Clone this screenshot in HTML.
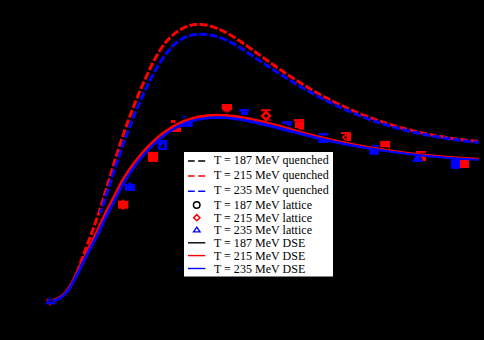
<!DOCTYPE html>
<html><head><meta charset="utf-8"><title>plot</title>
<style>
html,body{margin:0;padding:0;background:#000;}
body{width:484px;height:340px;overflow:hidden;}
svg{display:block}
.t{font-family:"Liberation Serif",serif;font-size:12px;fill:#000;letter-spacing:0.025px;}
</style></head><body>
<svg width="484" height="340" viewBox="0 0 484 340">
<defs><clipPath id="cp"><rect x="0" y="0" width="484" height="213"/></clipPath></defs>
<rect width="484" height="340" fill="#000"/>
<g fill="none" stroke-linejoin="round">
<rect x="46.1" y="302" width="9.50" height="2.40" fill="#0000ff"/>
<rect x="49.3" y="297.4" width="1.40" height="5.40" fill="#0000ff"/>
<path d="M46.1,302.6 L49.3,297.8 L50.3,298.6 L47.6,302.6 Z" fill="#0000ff"/>
<rect x="124.9" y="184" width="10.20" height="6.90" fill="#0000ff"/>
<path d="M127.3,184.2 L132.5,184.2 L129.9,181.9 Z" fill="#0000ff"/>
<rect x="157.8" y="140" width="9.30" height="9.90" fill="#0000ff"/>
<path d="M160.2,148.0 L163.9,148.0 L163.9,144.6 L162.6,143.6 Z" fill="#000"/>
<rect x="182.8" y="115.9" width="3.30" height="1.60" fill="#0000ff"/>
<rect x="181" y="121.2" width="11.80" height="5.60" fill="#0000ff"/>
<rect x="239.3" y="109" width="9.70" height="2.60" fill="#0000ff"/>
<rect x="241" y="111.6" width="7.00" height="3.40" fill="#0000ff"/>
<rect x="282" y="121.2" width="10.10" height="2.40" fill="#0000ff"/>
<path d="M285,123.6 L292,123.6 L291.3,125.7 L288,125.7 Z" fill="#0000ff"/>
<rect x="283" y="127" width="8.00" height="4.00" fill="#0000ff"/>
<rect x="318.6" y="133" width="9.30" height="2.50" fill="#0000ff"/>
<rect x="318.3" y="139.8" width="9.60" height="3.10" fill="#0000ff"/>
<rect x="372.3" y="144.9" width="6.90" height="1.80" fill="#0000ff"/>
<rect x="369.3" y="149.8" width="9.50" height="5.00" fill="#0000ff"/>
<path d="M412,161.9 L423,161.9 L419,154.9 L416,154.9 Z" fill="#0000ff"/>
<rect x="451" y="158.7" width="9.90" height="10.10" fill="#0000ff"/>
<path d="M48.8,304.3 L51.2,304.3 L50,305.9 Z" fill="#ff0000"/>
<path d="M46.0,300.6 L47.6,298.2 L48.4,298.8 L46.8,301.2 Z" fill="#ff0000"/>
<rect x="118" y="200.7" width="10.30" height="8.00" fill="#ff0000"/>
<rect x="122.2" y="199.7" width="2.00" height="10.00" fill="#ff0000"/>
<rect x="148" y="151.9" width="10.00" height="10.00" fill="#ff0000"/>
<rect x="171" y="120" width="4.40" height="2.90" fill="#ff0000"/>
<rect x="171" y="127.5" width="10.00" height="4.50" fill="#ff0000"/>
<rect x="221.8" y="104" width="10.20" height="6.00" fill="#ff0000"/>
<rect x="223.5" y="110" width="7.00" height="1.40" fill="#ff0000"/>
<rect x="225.5" y="111.4" width="3.50" height="1.00" fill="#ff0000"/>
<rect x="260.8" y="109.3" width="9.90" height="1.90" fill="#ff0000"/>
<path d="M266,112.0 L270.0,115.8 L266,119.6 L262.0,115.8 Z" fill="none" stroke="#ff0000" stroke-width="2.5"/>
<rect x="264.5" y="119.3" width="6.20" height="1.30" fill="#ff0000"/>
<rect x="294" y="119.1" width="10.10" height="2.10" fill="#ff0000"/>
<rect x="295" y="121.2" width="9.00" height="6.80" fill="#ff0000"/>
<path d="M297,128 L304,128 L304,129.8 L300,129.8 Z" fill="#ff0000"/>
<rect x="341" y="132.1" width="10.00" height="1.90" fill="#ff0000"/>
<rect x="346.5" y="134" width="4.50" height="7.00" fill="#ff0000"/>
<path d="M346.5,134.3 L342.6,137.3 L346.5,140.4" fill="none" stroke="#ff0000" stroke-width="1.7"/>
<rect x="380.2" y="140.9" width="9.90" height="6.40" fill="#ff0000"/>
<rect x="388.5" y="147.3" width="1.60" height="1.20" fill="#ff0000"/>
<rect x="415.9" y="151" width="10.20" height="1.80" fill="#ff0000"/>
<path d="M420.9,156.3 L424.5,156.3 L426.1,158 L426.1,160.9 L423,160.9 Z" fill="#ff0000"/>
<rect x="460.1" y="159.9" width="8.90" height="8.10" fill="#ff0000"/>
<path d="M52.7,300.4 L54.0,300.1 L55.2,299.8 L56.4,299.4 L57.6,298.9 L58.7,298.4 L59.8,297.7 L60.8,297.1 L61.9,296.3 L62.8,295.6 L63.8,294.7 L64.7,293.8 L65.6,292.9 L66.4,292.0 L67.3,291.0 L68.0,290.0 L68.8,288.9 L69.5,287.9 L70.2,286.8 L70.9,285.7 L71.5,284.6 L72.1,283.5 L72.7,282.4 L73.3,281.2 L73.8,280.1 L74.3,278.9 L74.9,277.8 L75.3,276.6 L75.8,275.4 L76.3,274.3 L76.7,273.1 L77.2,271.9 L77.6,270.7 L78.1,269.5 L78.5,268.4 L78.9,267.2 L79.4,266.0 L79.8,264.8 L80.2,263.6 L80.7,262.4 L81.1,261.2 L81.6,260.0 L82.0,258.9 L82.5,257.7 L82.9,256.5 L83.3,255.3 L83.8,254.1 L84.2,252.9 L84.7,251.7 L85.1,250.5 L85.6,249.4 L86.0,248.2 L86.5,247.0 L86.9,245.8 L87.4,244.6 L87.8,243.4 L88.3,242.2 L88.7,241.0 L89.1,239.9 L89.6,238.7 L90.0,237.5 L90.5,236.3 L90.9,235.1 L91.4,233.9 L91.8,232.7 L92.2,231.5 L92.7,230.3 L93.1,229.1 L93.5,227.9 L94.0,226.7 L94.4,225.6 L94.8,224.4 L95.2,223.2 L95.7,222.0 L96.1,220.8 L96.5,219.6 L96.9,218.4 L97.3,217.2 L97.8,216.0 L98.2,214.8 L98.6,213.6 L99.0,212.4 L99.4,211.2 L99.8,210.0 L100.2,208.8 L100.5,207.6 L100.9,206.3 L101.3,205.1 L101.7,203.9 L102.1,202.7 L102.5,201.5 L102.8,200.3 L103.2,199.1 L103.6,197.9 L104.0,196.7 L104.3,195.5 L104.7,194.2 L105.1,193.0 L105.4,191.8 L105.8,190.6 L106.2,189.4 L106.5,188.2 L106.9,187.0 L107.3,185.8 L107.6,184.5 L108.0,183.3 L108.3,182.1 L108.7,180.9 L109.1,179.7 L109.4,178.5 L109.8,177.2 L110.1,176.0 L110.5,174.8 L110.9,173.6 L111.2,172.4 L111.6,171.2 L111.9,170.0 L112.3,168.7 L112.7,167.5 L113.0,166.3 L113.4,165.1 L113.8,163.9 L114.2,162.7 L114.5,161.5 L114.9,160.2 L115.3,159.0 L115.7,157.8 L116.0,156.6 L116.4,155.4 L116.8,154.2 L117.2,153.0 L117.6,151.8 L118.0,150.6 L118.4,149.4 L118.7,148.1 L119.1,146.9 L119.5,145.7 L119.9,144.5 L120.3,143.3 L120.7,142.1 L121.1,140.9 L121.5,139.7 L121.9,138.5 L122.4,137.3 L122.8,136.1 L123.2,134.9 L123.6,133.7 L124.0,132.5 L124.4,131.3 L124.8,130.1 L125.3,128.9 L125.7,127.7 L126.1,126.5 L126.5,125.3 L127.0,124.1 L127.4,122.9 L127.8,121.7 L128.3,120.5 L128.7,119.3 L129.2,118.1 L129.6,116.9 L130.0,115.8 L130.5,114.6 L130.9,113.4 L131.4,112.2 L131.8,111.0 L132.3,109.8 L132.8,108.6 L133.2,107.5 L133.7,106.3 L134.1,105.1 L134.6,103.9 L135.1,102.7 L135.6,101.6 L136.0,100.4 L136.5,99.2 L137.0,98.0 L137.5,96.9 L138.0,95.7 L138.4,94.5 L138.9,93.4 L139.4,92.2 L139.9,91.0 L140.4,89.9 L140.9,88.7 L141.4,87.5 L141.9,86.4 L142.4,85.2 L142.9,84.0 L143.5,82.9 L144.0,81.7 L144.5,80.6 L145.0,79.4 L145.5,78.3 L146.1,77.1 L146.6,76.0 L147.1,74.8 L147.7,73.7 L148.2,72.5 L148.7,71.4 L149.3,70.2 L149.8,69.1 L150.4,68.0 L150.9,66.8 L151.5,65.7 L152.0,64.6 L152.6,63.4 L153.2,62.3 L153.8,61.2 L154.3,60.0 L154.9,58.9 L155.5,57.8 L156.1,56.7 L156.7,55.6 L157.4,54.5 L158.0,53.4 L158.6,52.3 L159.3,51.3 L160.0,50.2 L160.7,49.1 L161.4,48.1 L162.1,47.0 L162.8,46.0 L163.6,45.0 L164.4,44.0 L165.1,43.0 L166.0,42.0 L166.8,41.0 L167.7,40.1 L168.5,39.1 L169.4,38.2 L170.4,37.3 L171.3,36.4 L172.3,35.5 L173.3,34.7 L174.3,33.9 L175.3,33.0 L176.3,32.3 L177.4,31.5 L178.5,30.8 L179.6,30.1 L180.7,29.4 L181.8,28.8 L182.9,28.2 L184.0,27.7 L185.2,27.2 L186.4,26.7 L187.5,26.2 L188.7,25.9 L189.9,25.5 L191.1,25.2 L192.3,24.9 L193.5,24.7 L194.8,24.6 L196.0,24.5 L197.2,24.4 L198.4,24.4 L199.7,24.4 L200.9,24.5 L202.2,24.6 L203.4,24.7 L204.6,24.9 L205.9,25.1 L207.1,25.3 L208.4,25.6 L209.6,25.9 L210.8,26.3 L212.1,26.6 L213.3,27.0 L214.5,27.4 L215.7,27.9 L216.9,28.3 L218.1,28.8 L219.3,29.3 L220.5,29.9 L221.7,30.4 L222.9,30.9 L224.0,31.5 L225.2,32.1 L226.3,32.7 L227.4,33.3 L228.5,33.9 L229.6,34.5 L230.7,35.2 L231.8,35.8 L232.9,36.5 L234.0,37.2 L235.1,37.8 L236.1,38.5 L237.2,39.2 L238.2,39.9 L239.3,40.6 L240.3,41.3 L241.4,42.0 L242.4,42.7 L243.5,43.5 L244.5,44.2 L245.5,44.9 L246.5,45.6 L247.6,46.4 L248.6,47.1 L249.6,47.9 L250.7,48.6 L251.7,49.3 L252.7,50.1 L253.7,50.8 L254.8,51.5 L255.8,52.3 L256.8,53.0 L257.8,53.8 L258.9,54.5 L259.9,55.2 L260.9,56.0 L262.0,56.7 L263.0,57.4 L264.0,58.2 L265.1,58.9 L266.1,59.7 L267.1,60.4 L268.1,61.1 L269.2,61.9 L270.2,62.6 L271.3,63.3 L272.3,64.1 L273.3,64.8 L274.4,65.5 L275.4,66.2 L276.5,67.0 L277.5,67.7 L278.5,68.4 L279.6,69.1 L280.6,69.9 L281.7,70.6 L282.7,71.3 L283.8,72.0 L284.8,72.7 L285.9,73.4 L286.9,74.1 L288.0,74.8 L289.0,75.5 L290.1,76.2 L291.2,76.9 L292.2,77.6 L293.3,78.3 L294.3,79.0 L295.4,79.7 L296.5,80.4 L297.6,81.1 L298.6,81.8 L299.7,82.4 L300.8,83.1 L301.9,83.8 L302.9,84.5 L304.0,85.1 L305.1,85.8 L306.2,86.4 L307.3,87.1 L308.4,87.7 L309.5,88.4 L310.5,89.0 L311.6,89.7 L312.7,90.3 L313.8,90.9 L314.9,91.6 L316.0,92.2 L317.1,92.8 L318.3,93.4 L319.4,94.1 L320.5,94.7 L321.6,95.3 L322.7,95.9 L323.8,96.5 L324.9,97.1 L326.1,97.7 L327.2,98.3 L328.3,98.9 L329.4,99.5 L330.6,100.0 L331.7,100.6 L332.8,101.2 L333.9,101.8 L335.1,102.3 L336.2,102.9 L337.4,103.5 L338.5,104.0 L339.6,104.6 L340.8,105.1 L341.9,105.7 L343.1,106.2 L344.2,106.7 L345.4,107.3 L346.5,107.8 L347.7,108.3 L348.8,108.8 L350.0,109.4 L351.1,109.9 L352.3,110.4 L353.5,110.9 L354.6,111.4 L355.8,111.9 L357.0,112.4 L358.1,112.9 L359.3,113.3 L360.5,113.8 L361.6,114.3 L362.8,114.8 L364.0,115.2 L365.2,115.7 L366.4,116.2 L367.5,116.6 L368.7,117.1 L369.9,117.5 L371.1,118.0 L372.3,118.4 L373.5,118.8 L374.7,119.3 L375.9,119.7 L377.1,120.1 L378.2,120.5 L379.4,121.0 L380.6,121.4 L381.8,121.8 L383.0,122.2 L384.3,122.6 L385.5,123.0 L386.7,123.4 L387.9,123.7 L389.1,124.1 L390.3,124.5 L391.5,124.9 L392.7,125.2 L393.9,125.6 L395.1,126.0 L396.4,126.3 L397.6,126.7 L398.8,127.0 L400.0,127.4 L401.2,127.7 L402.5,128.0 L403.7,128.4 L404.9,128.7 L406.1,129.0 L407.4,129.3 L408.6,129.7 L409.8,130.0 L411.1,130.3 L412.3,130.6 L413.5,130.9 L414.8,131.2 L416.0,131.5 L417.2,131.8 L418.5,132.0 L419.7,132.3 L421.0,132.6 L422.2,132.9 L423.4,133.2 L424.7,133.4 L425.9,133.7 L427.2,133.9 L428.4,134.2 L429.6,134.4 L430.9,134.7 L432.1,134.9 L433.4,135.2 L434.6,135.4 L435.9,135.7 L437.1,135.9 L438.4,136.1 L439.6,136.3 L440.9,136.5 L442.1,136.8 L443.4,137.0 L444.6,137.2 L445.9,137.4 L447.1,137.6 L448.4,137.8 L449.6,138.0 L450.9,138.2 L452.2,138.4 L453.4,138.5 L454.7,138.7 L455.9,138.9 L457.2,139.1 L458.4,139.2 L459.7,139.4 L461.0,139.6 L462.2,139.7 L463.5,139.9 L464.7,140.0 L466.0,140.2 L467.3,140.3 L468.5,140.5 L469.8,140.6 L471.0,140.7 L472.3,140.9 L473.5,141.0 L474.8,141.1 L476.1,141.3 L477.3,141.4 L478.6,141.5" stroke="#ff0000" stroke-width="3" stroke-dasharray="8 2.3" stroke-dashoffset="3.5"/>
<path d="M52.7,300.5 L54.0,300.2 L55.2,299.8 L56.4,299.4 L57.5,298.9 L58.6,298.3 L59.7,297.7 L60.8,297.1 L61.8,296.4 L62.7,295.6 L63.7,294.8 L64.5,294.0 L65.4,293.1 L66.2,292.2 L67.0,291.3 L67.8,290.3 L68.6,289.3 L69.3,288.3 L69.9,287.3 L70.6,286.2 L71.2,285.1 L71.8,284.0 L72.4,283.0 L72.9,281.9 L73.5,280.7 L74.0,279.6 L74.5,278.5 L75.0,277.3 L75.5,276.2 L75.9,275.0 L76.4,273.9 L76.8,272.7 L77.3,271.6 L77.7,270.4 L78.1,269.2 L78.6,268.1 L79.0,266.9 L79.5,265.7 L79.9,264.6 L80.4,263.4 L80.8,262.2 L81.3,261.1 L81.8,259.9 L82.2,258.8 L82.7,257.6 L83.2,256.5 L83.6,255.3 L84.1,254.2 L84.6,253.0 L85.1,251.9 L85.5,250.7 L86.0,249.6 L86.5,248.4 L87.0,247.3 L87.5,246.2 L87.9,245.0 L88.4,243.9 L88.9,242.7 L89.4,241.6 L89.9,240.4 L90.3,239.3 L90.8,238.1 L91.3,237.0 L91.7,235.8 L92.2,234.7 L92.7,233.6 L93.1,232.4 L93.6,231.3 L94.1,230.1 L94.5,229.0 L95.0,227.8 L95.4,226.6 L95.8,225.5 L96.3,224.3 L96.7,223.2 L97.1,222.0 L97.6,220.8 L98.0,219.7 L98.4,218.5 L98.8,217.4 L99.2,216.2 L99.7,215.0 L100.1,213.9 L100.5,212.7 L100.9,211.5 L101.3,210.3 L101.7,209.2 L102.1,208.0 L102.5,206.8 L102.9,205.7 L103.3,204.5 L103.7,203.3 L104.0,202.1 L104.4,201.0 L104.8,199.8 L105.2,198.6 L105.6,197.4 L106.0,196.2 L106.3,195.1 L106.7,193.9 L107.1,192.7 L107.5,191.5 L107.9,190.3 L108.3,189.2 L108.6,188.0 L109.0,186.8 L109.4,185.6 L109.8,184.4 L110.2,183.2 L110.5,182.1 L110.9,180.9 L111.3,179.7 L111.7,178.5 L112.1,177.3 L112.5,176.2 L112.8,175.0 L113.2,173.8 L113.6,172.6 L114.0,171.4 L114.4,170.2 L114.8,169.1 L115.2,167.9 L115.6,166.7 L116.0,165.5 L116.4,164.3 L116.8,163.2 L117.2,162.0 L117.6,160.8 L118.0,159.6 L118.4,158.4 L118.8,157.3 L119.2,156.1 L119.6,154.9 L120.0,153.7 L120.4,152.6 L120.8,151.4 L121.2,150.2 L121.6,149.0 L122.0,147.9 L122.4,146.7 L122.9,145.5 L123.3,144.3 L123.7,143.2 L124.1,142.0 L124.5,140.8 L125.0,139.7 L125.4,138.5 L125.8,137.3 L126.3,136.1 L126.7,135.0 L127.1,133.8 L127.6,132.7 L128.0,131.5 L128.4,130.3 L128.9,129.2 L129.3,128.0 L129.8,126.8 L130.2,125.7 L130.6,124.5 L131.1,123.4 L131.6,122.2 L132.0,121.1 L132.5,119.9 L132.9,118.8 L133.4,117.6 L133.8,116.5 L134.3,115.3 L134.8,114.2 L135.3,113.0 L135.7,111.9 L136.2,110.7 L136.7,109.6 L137.2,108.4 L137.6,107.3 L138.1,106.2 L138.6,105.0 L139.1,103.9 L139.6,102.8 L140.1,101.6 L140.6,100.5 L141.1,99.4 L141.6,98.2 L142.1,97.1 L142.6,96.0 L143.1,94.9 L143.6,93.7 L144.1,92.6 L144.7,91.5 L145.2,90.4 L145.7,89.3 L146.2,88.2 L146.8,87.1 L147.3,85.9 L147.8,84.8 L148.4,83.7 L148.9,82.6 L149.5,81.5 L150.0,80.4 L150.6,79.3 L151.1,78.2 L151.7,77.1 L152.3,76.1 L152.9,75.0 L153.4,73.9 L154.0,72.8 L154.6,71.7 L155.2,70.6 L155.9,69.6 L156.5,68.5 L157.1,67.4 L157.8,66.3 L158.4,65.3 L159.1,64.2 L159.7,63.1 L160.4,62.1 L161.1,61.0 L161.8,60.0 L162.5,58.9 L163.2,57.8 L164.0,56.8 L164.7,55.8 L165.5,54.7 L166.2,53.7 L167.0,52.7 L167.8,51.7 L168.6,50.7 L169.4,49.7 L170.3,48.7 L171.1,47.8 L172.0,46.9 L172.9,46.0 L173.8,45.1 L174.7,44.2 L175.6,43.4 L176.5,42.6 L177.5,41.9 L178.5,41.1 L179.4,40.4 L180.5,39.7 L181.5,39.1 L182.5,38.5 L183.6,37.9 L184.7,37.4 L185.8,37.0 L186.9,36.5 L188.0,36.1 L189.1,35.8 L190.3,35.4 L191.5,35.2 L192.6,34.9 L193.8,34.7 L195.0,34.5 L196.2,34.4 L197.5,34.3 L198.7,34.2 L199.9,34.2 L201.1,34.2 L202.4,34.2 L203.6,34.3 L204.9,34.4 L206.1,34.5 L207.4,34.6 L208.6,34.8 L209.9,35.0 L211.1,35.2 L212.4,35.5 L213.6,35.7 L214.8,36.1 L216.1,36.4 L217.3,36.7 L218.5,37.1 L219.7,37.5 L220.9,37.9 L222.1,38.3 L223.3,38.8 L224.4,39.3 L225.6,39.8 L226.7,40.3 L227.9,40.8 L229.0,41.3 L230.1,41.9 L231.2,42.5 L232.3,43.0 L233.4,43.6 L234.4,44.2 L235.5,44.9 L236.6,45.5 L237.6,46.1 L238.7,46.8 L239.7,47.4 L240.8,48.1 L241.8,48.8 L242.9,49.4 L243.9,50.1 L244.9,50.8 L246.0,51.5 L247.0,52.2 L248.0,52.9 L249.0,53.6 L250.1,54.2 L251.1,54.9 L252.1,55.6 L253.2,56.3 L254.2,57.0 L255.2,57.7 L256.2,58.4 L257.3,59.1 L258.3,59.8 L259.3,60.5 L260.4,61.2 L261.4,61.8 L262.4,62.5 L263.5,63.2 L264.5,63.9 L265.5,64.6 L266.6,65.3 L267.6,66.0 L268.6,66.6 L269.7,67.3 L270.7,68.0 L271.7,68.7 L272.8,69.4 L273.8,70.0 L274.9,70.7 L275.9,71.4 L277.0,72.1 L278.0,72.7 L279.0,73.4 L280.1,74.1 L281.1,74.7 L282.2,75.4 L283.2,76.1 L284.3,76.7 L285.3,77.4 L286.4,78.0 L287.4,78.7 L288.5,79.4 L289.6,80.0 L290.6,80.7 L291.7,81.3 L292.7,81.9 L293.8,82.6 L294.9,83.2 L295.9,83.9 L297.0,84.5 L298.1,85.1 L299.1,85.8 L300.2,86.4 L301.3,87.0 L302.3,87.7 L303.4,88.3 L304.5,88.9 L305.6,89.5 L306.7,90.1 L307.7,90.7 L308.8,91.3 L309.9,91.9 L311.0,92.5 L312.1,93.1 L313.2,93.7 L314.3,94.3 L315.3,94.9 L316.4,95.5 L317.5,96.1 L318.6,96.7 L319.7,97.3 L320.8,97.8 L321.9,98.4 L323.0,99.0 L324.1,99.5 L325.3,100.1 L326.4,100.7 L327.5,101.2 L328.6,101.8 L329.7,102.3 L330.8,102.9 L331.9,103.4 L333.0,104.0 L334.2,104.5 L335.3,105.0 L336.4,105.6 L337.5,106.1 L338.7,106.6 L339.8,107.1 L340.9,107.7 L342.0,108.2 L343.2,108.7 L344.3,109.2 L345.4,109.7 L346.6,110.2 L347.7,110.7 L348.8,111.2 L350.0,111.7 L351.1,112.1 L352.3,112.6 L353.4,113.1 L354.6,113.6 L355.7,114.1 L356.9,114.5 L358.0,115.0 L359.2,115.4 L360.3,115.9 L361.5,116.3 L362.6,116.8 L363.8,117.2 L364.9,117.7 L366.1,118.1 L367.3,118.5 L368.4,119.0 L369.6,119.4 L370.8,119.8 L371.9,120.2 L373.1,120.6 L374.3,121.0 L375.4,121.4 L376.6,121.8 L377.8,122.2 L379.0,122.6 L380.1,123.0 L381.3,123.4 L382.5,123.7 L383.7,124.1 L384.9,124.5 L386.1,124.9 L387.2,125.2 L388.4,125.6 L389.6,125.9 L390.8,126.3 L392.0,126.6 L393.2,127.0 L394.4,127.3 L395.6,127.6 L396.8,128.0 L398.0,128.3 L399.2,128.6 L400.4,128.9 L401.6,129.2 L402.8,129.5 L404.0,129.8 L405.2,130.2 L406.4,130.5 L407.6,130.7 L408.8,131.0 L410.0,131.3 L411.2,131.6 L412.4,131.9 L413.6,132.2 L414.9,132.4 L416.1,132.7 L417.3,133.0 L418.5,133.3 L419.7,133.5 L420.9,133.8 L422.1,134.0 L423.4,134.3 L424.6,134.5 L425.8,134.8 L427.0,135.0 L428.2,135.2 L429.4,135.5 L430.7,135.7 L431.9,135.9 L433.1,136.2 L434.3,136.4 L435.6,136.6 L436.8,136.8 L438.0,137.0 L439.2,137.2 L440.5,137.4 L441.7,137.6 L442.9,137.8 L444.1,138.0 L445.4,138.2 L446.6,138.4 L447.8,138.6 L449.0,138.8 L450.3,139.0 L451.5,139.2 L452.7,139.3 L454.0,139.5 L455.2,139.7 L456.4,139.8 L457.6,140.0 L458.9,140.2 L460.1,140.3 L461.3,140.5 L462.6,140.6 L463.8,140.8 L465.0,140.9 L466.3,141.1 L467.5,141.2 L468.7,141.4 L470.0,141.5 L471.2,141.7 L472.4,141.8 L473.7,141.9 L474.9,142.0 L476.1,142.2 L477.4,142.3 L478.6,142.4" stroke="#0000ff" stroke-width="3" stroke-dasharray="8 2.3" stroke-dashoffset="3.5" clip-path="url(#cp)"/>
<path d="M52.4,298.7 L53.7,298.5 L54.9,298.2 L56.0,297.8 L57.1,297.3 L58.2,296.7 L59.2,296.1 L60.2,295.5 L61.1,294.7 L62.1,293.9 L62.9,293.1 L63.8,292.2 L64.6,291.3 L65.4,290.3 L66.2,289.3 L66.9,288.3 L67.7,287.3 L68.4,286.2 L69.1,285.1 L69.7,284.0 L70.4,282.8 L71.0,281.7 L71.6,280.5 L72.2,279.4 L72.8,278.2 L73.4,277.0 L74.0,275.8 L74.6,274.6 L75.1,273.4 L75.7,272.3 L76.3,271.1 L76.8,269.9 L77.4,268.7 L77.9,267.5 L78.5,266.3 L79.0,265.1 L79.6,263.9 L80.1,262.7 L80.7,261.5 L81.2,260.3 L81.8,259.1 L82.3,258.0 L82.9,256.8 L83.5,255.6 L84.0,254.4 L84.6,253.2 L85.2,252.0 L85.8,250.8 L86.4,249.7 L87.0,248.5 L87.6,247.3 L88.2,246.1 L88.8,245.0 L89.5,243.8 L90.1,242.6 L90.6,241.5 L91.2,240.3 L91.8,239.1 L92.4,238.0 L93.0,236.8 L93.5,235.6 L94.1,234.4 L94.6,233.2 L95.2,232.0 L95.7,230.8 L96.3,229.6 L96.8,228.4 L97.4,227.2 L97.9,226.0 L98.5,224.8 L99.0,223.6 L99.6,222.4 L100.1,221.2 L100.7,220.0 L101.2,218.8 L101.8,217.6 L102.4,216.4 L103.0,215.2 L103.6,214.1 L104.1,212.9 L104.7,211.7 L105.3,210.5 L105.9,209.3 L106.6,208.1 L107.2,207.0 L107.8,205.8 L108.4,204.6 L109.0,203.4 L109.6,202.3 L110.2,201.1 L110.8,199.9 L111.4,198.8 L112.0,197.6 L112.6,196.4 L113.2,195.2 L113.8,194.1 L114.4,192.9 L115.0,191.7 L115.6,190.5 L116.2,189.3 L116.8,188.2 L117.4,187.0 L118.0,185.8 L118.6,184.6 L119.2,183.4 L119.9,182.3 L120.6,181.1 L121.2,179.9 L121.9,178.8 L122.6,177.6 L123.3,176.5 L124.0,175.4 L124.7,174.2 L125.5,173.1 L126.2,172.0 L126.9,170.9 L127.7,169.8 L128.4,168.7 L129.2,167.6 L130.0,166.5 L130.8,165.4 L131.5,164.3 L132.3,163.2 L133.1,162.2 L133.9,161.1 L134.8,160.0 L135.6,159.0 L136.4,157.9 L137.2,156.9 L138.1,155.8 L138.9,154.8 L139.8,153.8 L140.7,152.8 L141.6,151.7 L142.4,150.7 L143.3,149.7 L144.2,148.7 L145.1,147.8 L146.1,146.8 L147.0,145.8 L147.9,144.8 L148.9,143.9 L149.8,142.9 L150.8,142.0 L151.8,141.1 L152.7,140.2 L153.7,139.2 L154.7,138.3 L155.7,137.5 L156.7,136.6 L157.8,135.7 L158.8,134.8 L159.9,134.0 L160.9,133.2 L162.0,132.3 L163.1,131.5 L164.1,130.7 L165.2,129.9 L166.3,129.2 L167.5,128.4 L168.6,127.7 L169.7,126.9 L170.9,126.2 L172.0,125.5 L173.2,124.9 L174.4,124.2 L175.6,123.6 L176.8,122.9 L178.0,122.3 L179.2,121.8 L180.4,121.2 L181.7,120.7 L183.0,120.1 L184.2,119.6 L185.5,119.2 L186.8,118.7 L188.1,118.3 L189.4,117.9 L190.7,117.5 L192.0,117.1 L193.3,116.8 L194.6,116.4 L196.0,116.1 L197.3,115.8 L198.7,115.6 L200.0,115.3 L201.3,115.1 L202.7,114.9 L204.0,114.7 L205.4,114.5 L206.8,114.4 L208.1,114.3 L209.5,114.1 L210.8,114.0 L212.2,114.0 L213.5,113.9 L214.9,113.8 L216.3,113.8 L217.6,113.8 L219.0,113.8 L220.3,113.8 L221.6,113.9 L223.0,113.9 L224.3,114.0 L225.7,114.1 L227.0,114.1 L228.3,114.2 L229.7,114.4 L231.0,114.5 L232.3,114.6 L233.7,114.8 L235.0,115.0 L236.3,115.1 L237.6,115.3 L239.0,115.5 L240.3,115.7 L241.6,115.9 L242.9,116.2 L244.2,116.4 L245.5,116.6 L246.8,116.9 L248.1,117.1 L249.4,117.4 L250.7,117.7 L252.0,117.9 L253.3,118.2 L254.6,118.5 L255.9,118.8 L257.2,119.1 L258.5,119.4 L259.8,119.7 L261.1,120.0 L262.4,120.3 L263.7,120.6 L265.0,120.9 L266.3,121.3 L267.5,121.6 L268.8,121.9 L270.1,122.2 L271.4,122.6 L272.7,122.9 L274.0,123.2 L275.2,123.5 L276.5,123.9 L277.8,124.2 L279.1,124.6 L280.4,124.9 L281.6,125.3 L282.9,125.6 L284.2,126.0 L285.4,126.4 L286.7,126.7 L288.0,127.1 L289.3,127.5 L290.5,127.8 L291.8,128.2 L293.1,128.6 L294.3,128.9 L295.6,129.3 L296.9,129.7 L298.1,130.0 L299.4,130.4 L300.7,130.8 L301.9,131.1 L303.2,131.4 L304.5,131.8 L305.8,132.1 L307.0,132.5 L308.3,132.8 L309.6,133.1 L310.9,133.4 L312.1,133.8 L313.4,134.1 L314.7,134.4 L316.0,134.7 L317.2,135.1 L318.5,135.4 L319.8,135.7 L321.1,136.0 L322.4,136.3 L323.6,136.6 L324.9,136.9 L326.2,137.2 L327.5,137.5 L328.8,137.8 L330.0,138.1 L331.3,138.4 L332.6,138.7 L333.9,139.0 L335.2,139.3 L336.4,139.6 L337.7,139.9 L339.0,140.1 L340.3,140.4 L341.6,140.7 L342.9,141.0 L344.2,141.3 L345.4,141.5 L346.7,141.8 L348.0,142.1 L349.3,142.3 L350.6,142.6 L351.9,142.9 L353.2,143.1 L354.5,143.4 L355.8,143.6 L357.1,143.9 L358.3,144.1 L359.6,144.4 L360.9,144.6 L362.2,144.9 L363.5,145.1 L364.8,145.3 L366.1,145.6 L367.4,145.8 L368.7,146.0 L370.0,146.2 L371.3,146.5 L372.6,146.7 L373.9,146.9 L375.2,147.1 L376.5,147.3 L377.8,147.5 L379.1,147.7 L380.4,147.9 L381.7,148.1 L383.0,148.3 L384.3,148.5 L385.6,148.7 L386.9,148.9 L388.2,149.1 L389.5,149.3 L390.8,149.5 L392.1,149.7 L393.4,149.9 L394.7,150.1 L396.0,150.3 L397.3,150.5 L398.6,150.6 L399.9,150.8 L401.2,151.0 L402.6,151.2 L403.9,151.3 L405.2,151.5 L406.5,151.7 L407.8,151.8 L409.1,152.0 L410.4,152.2 L411.7,152.3 L413.0,152.5 L414.3,152.6 L415.6,152.8 L416.9,152.9 L418.3,153.0 L419.6,153.2 L420.9,153.3 L422.2,153.5 L423.5,153.6 L424.8,153.7 L426.1,153.9 L427.4,154.0 L428.7,154.1 L430.1,154.3 L431.4,154.4 L432.7,154.5 L434.0,154.6 L435.3,154.7 L436.6,154.9 L437.9,155.0 L439.2,155.1 L440.6,155.2 L441.9,155.3 L443.2,155.4 L444.5,155.5 L445.8,155.7 L447.1,155.8 L448.4,155.9 L449.7,156.0 L451.1,156.1 L452.4,156.2 L453.7,156.3 L455.0,156.4 L456.3,156.5 L457.6,156.5 L458.9,156.6 L460.3,156.7 L461.6,156.8 L462.9,156.9 L464.2,157.0 L465.5,157.1 L466.8,157.2 L468.2,157.2 L469.5,157.3 L470.8,157.4 L472.1,157.5 L473.4,157.5 L474.7,157.6 L476.0,157.7 L477.4,157.8 L478.7,157.8 L478.6,159.2 L477.3,159.2 L476.0,159.1 L474.6,159.0 L473.3,158.9 L472.0,158.9 L470.7,158.8 L469.4,158.7 L468.1,158.6 L466.8,158.5 L465.4,158.5 L464.1,158.4 L462.8,158.3 L461.5,158.2 L460.2,158.1 L458.9,158.0 L457.5,157.9 L456.2,157.8 L454.9,157.8 L453.6,157.7 L452.3,157.6 L451.0,157.5 L449.6,157.4 L448.3,157.3 L447.0,157.2 L445.7,157.0 L444.4,156.9 L443.1,156.8 L441.8,156.7 L440.4,156.6 L439.1,156.5 L437.8,156.4 L436.5,156.3 L435.2,156.1 L433.9,156.0 L432.5,155.9 L431.2,155.8 L429.9,155.6 L428.6,155.5 L427.3,155.4 L426.0,155.3 L424.7,155.1 L423.4,155.0 L422.0,154.9 L420.7,154.7 L419.4,154.6 L418.1,154.4 L416.8,154.3 L415.5,154.1 L414.2,154.0 L412.9,153.8 L411.5,153.7 L410.2,153.5 L408.9,153.4 L407.6,153.2 L406.3,153.1 L405.0,152.9 L403.7,152.7 L402.4,152.6 L401.1,152.4 L399.8,152.2 L398.5,152.1 L397.1,151.9 L395.8,151.7 L394.5,151.5 L393.2,151.3 L391.9,151.2 L390.6,151.0 L389.3,150.8 L388.0,150.6 L386.7,150.4 L385.4,150.2 L384.1,150.0 L382.8,149.8 L381.5,149.6 L380.2,149.4 L378.9,149.2 L377.6,149.0 L376.3,148.8 L375.0,148.6 L373.7,148.4 L372.3,148.2 L371.0,148.0 L369.7,147.8 L368.4,147.6 L367.1,147.3 L365.8,147.1 L364.5,146.9 L363.2,146.7 L361.9,146.4 L360.6,146.2 L359.3,146.0 L358.1,145.7 L356.8,145.5 L355.5,145.3 L354.2,145.0 L352.9,144.8 L351.6,144.5 L350.3,144.3 L349.0,144.0 L347.7,143.8 L346.4,143.5 L345.1,143.2 L343.8,143.0 L342.5,142.7 L341.2,142.5 L339.9,142.2 L338.6,141.9 L337.4,141.6 L336.1,141.4 L334.8,141.1 L333.5,140.8 L332.2,140.5 L330.9,140.2 L329.6,139.9 L328.3,139.7 L327.0,139.4 L325.8,139.1 L324.5,138.8 L323.2,138.5 L321.9,138.2 L320.6,137.9 L319.3,137.6 L318.1,137.3 L316.8,136.9 L315.5,136.6 L314.2,136.3 L312.9,136.0 L311.7,135.7 L310.4,135.3 L309.1,135.0 L307.8,134.7 L306.5,134.4 L305.3,134.0 L304.0,133.7 L302.7,133.4 L301.4,133.0 L300.2,132.7 L298.9,132.3 L297.6,132.0 L296.3,131.7 L295.1,131.3 L293.8,131.0 L292.5,130.6 L291.2,130.3 L290.0,129.9 L288.7,129.6 L287.4,129.2 L286.1,128.9 L284.9,128.5 L283.6,128.2 L282.3,127.8 L281.0,127.5 L279.8,127.1 L278.5,126.8 L277.2,126.5 L275.9,126.2 L274.6,125.9 L273.4,125.6 L272.1,125.2 L270.8,124.9 L269.5,124.6 L268.2,124.3 L266.9,124.0 L265.7,123.7 L264.4,123.4 L263.1,123.1 L261.8,122.8 L260.5,122.5 L259.2,122.2 L257.9,121.9 L256.7,121.6 L255.4,121.3 L254.1,121.1 L252.8,120.8 L251.5,120.5 L250.2,120.3 L248.9,120.0 L247.6,119.8 L246.3,119.5 L245.0,119.3 L243.7,119.1 L242.4,118.8 L241.1,118.6 L239.8,118.4 L238.5,118.2 L237.2,118.0 L235.9,117.9 L234.6,117.7 L233.3,117.5 L232.0,117.4 L230.7,117.3 L229.4,117.2 L228.1,117.1 L226.8,117.0 L225.5,116.9 L224.2,116.8 L222.9,116.8 L221.6,116.7 L220.2,116.7 L218.9,116.7 L217.6,116.7 L216.3,116.7 L215.0,116.7 L213.7,116.8 L212.3,116.9 L211.0,116.9 L209.7,117.0 L208.4,117.1 L207.1,117.3 L205.7,117.4 L204.4,117.6 L203.1,117.8 L201.8,118.0 L200.5,118.2 L199.2,118.4 L197.9,118.7 L196.6,119.0 L195.3,119.3 L194.0,119.6 L192.8,119.9 L191.5,120.3 L190.2,120.6 L189.0,121.0 L187.7,121.5 L186.5,121.9 L185.3,122.4 L184.0,122.8 L182.8,123.3 L181.6,123.8 L180.4,124.4 L179.3,125.0 L178.1,125.5 L176.9,126.1 L175.8,126.7 L174.6,127.4 L173.5,128.0 L172.4,128.7 L171.3,129.4 L170.2,130.1 L169.1,130.8 L168.0,131.6 L166.9,132.3 L165.8,133.1 L164.8,133.8 L163.7,134.6 L162.7,135.4 L161.7,136.3 L160.6,137.1 L159.6,137.9 L158.6,138.8 L157.6,139.6 L156.6,140.5 L155.7,141.4 L154.7,142.3 L153.7,143.2 L152.8,144.1 L151.8,145.0 L150.9,145.9 L150.0,146.8 L149.0,147.8 L148.1,148.7 L147.2,149.7 L146.3,150.7 L145.4,151.6 L144.5,152.6 L143.7,153.6 L142.8,154.6 L141.9,155.6 L141.1,156.6 L140.3,157.6 L139.4,158.6 L138.6,159.7 L137.8,160.7 L137.0,161.7 L136.2,162.8 L135.4,163.8 L134.6,164.9 L133.8,166.0 L133.0,167.0 L132.2,168.1 L131.5,169.2 L130.7,170.2 L130.0,171.3 L129.2,172.4 L128.5,173.5 L127.7,174.6 L127.0,175.7 L126.3,176.8 L125.6,177.9 L124.9,179.0 L124.2,180.2 L123.6,181.3 L122.9,182.4 L122.3,183.6 L121.6,184.7 L121.0,185.9 L120.4,187.0 L119.7,188.2 L119.1,189.4 L118.5,190.5 L117.9,191.7 L117.3,192.9 L116.7,194.1 L116.1,195.3 L115.5,196.4 L114.9,197.6 L114.3,198.8 L113.7,200.0 L113.1,201.1 L112.5,202.3 L111.9,203.5 L111.3,204.6 L110.6,205.8 L110.0,207.0 L109.4,208.1 L108.8,209.3 L108.2,210.5 L107.6,211.6 L107.0,212.8 L106.4,214.0 L105.8,215.2 L105.2,216.3 L104.6,217.5 L104.0,218.7 L103.5,219.9 L102.9,221.1 L102.3,222.3 L101.8,223.5 L101.2,224.7 L100.7,225.9 L100.1,227.1 L99.5,228.3 L99.0,229.4 L98.4,230.6 L97.8,231.8 L97.3,233.0 L96.7,234.2 L96.1,235.4 L95.5,236.6 L94.9,237.7 L94.3,238.9 L93.7,240.1 L93.1,241.3 L92.5,242.4 L91.9,243.6 L91.2,244.7 L90.6,245.9 L90.0,247.1 L89.3,248.2 L88.7,249.4 L88.1,250.5 L87.4,251.7 L86.8,252.8 L86.2,254.0 L85.6,255.2 L85.0,256.3 L84.4,257.5 L83.8,258.7 L83.2,259.9 L82.7,261.0 L82.1,262.2 L81.5,263.4 L80.9,264.6 L80.3,265.7 L79.8,266.9 L79.2,268.1 L78.6,269.3 L78.0,270.5 L77.5,271.6 L76.9,272.8 L76.3,274.0 L75.7,275.2 L75.1,276.4 L74.5,277.6 L73.9,278.7 L73.3,279.9 L72.7,281.1 L72.0,282.3 L71.4,283.4 L70.7,284.6 L70.0,285.7 L69.3,286.8 L68.6,287.9 L67.9,289.0 L67.1,290.0 L66.3,291.0 L65.5,292.0 L64.6,293.0 L63.7,293.9 L62.8,294.8 L61.8,295.6 L60.8,296.3 L59.8,297.0 L58.7,297.7 L57.6,298.2 L56.4,298.7 L55.2,299.1 L53.9,299.5 L52.6,299.7 Z" fill="#ff0000" stroke="none"/>
<path d="M52.5,299.3 L53.8,299.1 L55.1,298.8 L56.3,298.4 L57.4,297.9 L58.5,297.3 L59.6,296.7 L60.6,296.0 L61.6,295.3 L62.5,294.5 L63.4,293.6 L64.3,292.7 L65.2,291.8 L66.0,290.8 L66.8,289.8 L67.6,288.7 L68.3,287.7 L69.0,286.6 L69.7,285.5 L70.4,284.4 L71.0,283.2 L71.7,282.1 L72.3,280.9 L72.9,279.7 L73.5,278.6 L74.1,277.4 L74.7,276.2 L75.3,275.0 L75.9,273.8 L76.5,272.7 L77.1,271.5 L77.7,270.3 L78.3,269.1 L78.8,267.9 L79.4,266.7 L80.0,265.6 L80.6,264.4 L81.1,263.2 L81.7,262.0 L82.3,260.9 L82.9,259.7 L83.5,258.5 L84.1,257.3 L84.7,256.2 L85.3,255.0 L85.9,253.8 L86.5,252.7 L87.1,251.5 L87.7,250.3 L88.3,249.2 L89.0,248.0 L89.6,246.9 L90.2,245.7 L90.9,244.6 L91.5,243.4 L92.1,242.2 L92.8,241.1 L93.4,239.9 L94.0,238.7 L94.6,237.6 L95.2,236.4 L95.7,235.2 L96.3,234.0 L96.9,232.8 L97.5,231.7 L98.0,230.5 L98.6,229.3 L99.2,228.1 L99.7,226.9 L100.3,225.7 L100.9,224.5 L101.4,223.3 L102.0,222.1 L102.5,220.9 L103.1,219.7 L103.7,218.5 L104.3,217.3 L104.8,216.2 L105.4,215.0 L106.0,213.8 L106.6,212.6 L107.2,211.4 L107.8,210.3 L108.4,209.1 L109.1,207.9 L109.7,206.8 L110.3,205.6 L110.9,204.4 L111.5,203.3 L112.1,202.1 L112.8,200.9 L113.4,199.8 L114.0,198.6 L114.6,197.4 L115.2,196.2 L115.8,195.1 L116.4,193.9 L117.0,192.7 L117.6,191.5 L118.2,190.4 L118.8,189.2 L119.4,188.0 L120.0,186.9 L120.6,185.7 L121.3,184.5 L121.9,183.4 L122.6,182.2 L123.2,181.1 L123.9,180.0 L124.6,178.8 L125.3,177.7 L126.0,176.6 L126.7,175.5 L127.4,174.4 L128.1,173.3 L128.9,172.2 L129.6,171.1 L130.4,170.0 L131.1,168.9 L131.9,167.9 L132.7,166.8 L133.5,165.7 L134.2,164.7 L135.0,163.6 L135.8,162.5 L136.6,161.5 L137.5,160.5 L138.3,159.4 L139.1,158.4 L139.9,157.4 L140.8,156.3 L141.6,155.3 L142.5,154.3 L143.4,153.3 L144.2,152.3 L145.1,151.4 L146.0,150.4 L146.9,149.4 L147.8,148.5 L148.7,147.5 L149.7,146.6 L150.6,145.6 L151.5,144.7 L152.5,143.8 L153.4,142.9 L154.4,142.0 L155.4,141.1 L156.4,140.2 L157.4,139.3 L158.4,138.5 L159.4,137.6 L160.4,136.8 L161.4,135.9 L162.5,135.1 L163.5,134.3 L164.5,133.5 L165.6,132.7 L166.7,132.0 L167.8,131.2 L168.9,130.5 L169.9,129.8 L171.1,129.1 L172.2,128.4 L173.3,127.7 L174.4,127.0 L175.6,126.4 L176.7,125.8 L177.9,125.2 L179.1,124.6 L180.3,124.0 L181.5,123.5 L182.7,123.0 L183.9,122.5 L185.1,122.0 L186.3,121.5 L187.6,121.1 L188.8,120.7 L190.1,120.3 L191.4,119.9 L192.6,119.5 L193.9,119.2 L195.2,118.9 L196.5,118.6 L197.8,118.3 L199.1,118.0 L200.4,117.8 L201.7,117.6 L203.1,117.4 L204.4,117.2 L205.7,117.0 L207.0,116.9 L208.3,116.7 L209.7,116.6 L211.0,116.5 L212.3,116.5 L213.6,116.4 L215.0,116.3 L216.3,116.3 L217.6,116.3 L218.9,116.3 L220.3,116.3 L221.6,116.3 L222.9,116.4 L224.2,116.4 L225.5,116.5 L226.8,116.6 L228.1,116.7 L229.5,116.8 L230.8,116.9 L232.1,117.0 L233.4,117.2 L234.7,117.3 L236.0,117.5 L237.3,117.6 L238.6,117.8 L239.9,118.0 L241.2,118.2 L242.5,118.4 L243.8,118.7 L245.1,118.9 L246.4,119.1 L247.7,119.4 L249.0,119.6 L250.3,119.9 L251.6,120.1 L252.9,120.4 L254.2,120.7 L255.5,120.9 L256.7,121.2 L258.0,121.5 L259.3,121.8 L260.6,122.1 L261.9,122.4 L263.2,122.7 L264.5,123.0 L265.8,123.3 L267.0,123.6 L268.3,123.9 L269.6,124.2 L270.9,124.5 L272.2,124.8 L273.5,125.2 L274.7,125.5 L276.0,125.8 L277.3,126.1 L278.6,126.4 L279.9,126.8 L281.1,127.1 L282.4,127.4 L283.7,127.8 L285.0,128.1 L286.2,128.5 L287.5,128.8 L288.8,129.2 L290.1,129.5 L291.3,129.9 L292.6,130.2 L293.9,130.6 L295.2,130.9 L296.4,131.3 L297.7,131.6 L299.0,132.0 L300.3,132.3 L301.5,132.6 L302.8,133.0 L304.1,133.3 L305.4,133.6 L306.6,134.0 L307.9,134.3 L309.2,134.6 L310.5,135.0 L311.8,135.3 L313.0,135.6 L314.3,135.9 L315.6,136.2 L316.9,136.6 L318.2,136.9 L319.4,137.2 L320.7,137.5 L322.0,137.8 L323.3,138.1 L324.6,138.4 L325.9,138.7 L327.1,139.0 L328.4,139.3 L329.7,139.6 L331.0,139.8 L332.3,140.1 L333.6,140.4 L334.9,140.7 L336.1,141.0 L337.4,141.3 L338.7,141.5 L340.0,141.8 L341.3,142.1 L342.6,142.3 L343.9,142.6 L345.2,142.9 L346.5,143.1 L347.8,143.4 L349.1,143.6 L350.4,143.9 L351.6,144.1 L352.9,144.4 L354.2,144.6 L355.5,144.9 L356.8,145.1 L358.1,145.3 L359.4,145.6 L360.7,145.8 L362.0,146.0 L363.3,146.3 L364.6,146.5 L365.9,146.7 L367.2,146.9 L368.5,147.2 L369.8,147.4 L371.1,147.6 L372.4,147.8 L373.7,148.0 L375.0,148.2 L376.3,148.4 L377.6,148.6 L378.9,148.8 L380.2,149.0 L381.5,149.2 L382.8,149.4 L384.1,149.6 L385.4,149.8 L386.7,150.0 L388.1,150.2 L389.4,150.4 L390.7,150.6 L392.0,150.8 L393.3,151.0 L394.6,151.1 L395.9,151.3 L397.2,151.5 L398.5,151.7 L399.8,151.8 L401.1,152.0 L402.4,152.2 L403.7,152.3 L405.0,152.5 L406.4,152.7 L407.7,152.8 L409.0,153.0 L410.3,153.1 L411.6,153.3 L412.9,153.4 L414.2,153.6 L415.5,153.7 L416.8,153.9 L418.1,154.0 L419.5,154.2 L420.8,154.3 L422.1,154.5 L423.4,154.6 L424.7,154.7 L426.0,154.9 L427.3,155.0 L428.6,155.1 L430.0,155.2 L431.3,155.4 L432.6,155.5 L433.9,155.6 L435.2,155.7 L436.5,155.9 L437.8,156.0 L439.2,156.1 L440.5,156.2 L441.8,156.3 L443.1,156.4 L444.4,156.5 L445.7,156.6 L447.0,156.8 L448.4,156.9 L449.7,157.0 L451.0,157.1 L452.3,157.2 L453.6,157.3 L454.9,157.4 L456.2,157.4 L457.6,157.5 L458.9,157.6 L460.2,157.7 L461.5,157.8 L462.8,157.9 L464.1,158.0 L465.5,158.1 L466.8,158.1 L468.1,158.2 L469.4,158.3 L470.7,158.4 L472.0,158.5 L473.4,158.5 L474.7,158.6 L476.0,158.7 L477.3,158.8 L478.6,158.8 L478.5,160.8 L477.2,160.8 L475.9,160.7 L474.6,160.6 L473.2,160.5 L471.9,160.5 L470.6,160.4 L469.3,160.3 L468.0,160.2 L466.7,160.2 L465.3,160.1 L464.0,160.0 L462.7,159.9 L461.4,159.8 L460.1,159.7 L458.7,159.7 L457.4,159.6 L456.1,159.5 L454.8,159.4 L453.5,159.3 L452.2,159.2 L450.8,159.1 L449.5,159.0 L448.2,158.9 L446.9,158.8 L445.6,158.7 L444.2,158.6 L442.9,158.5 L441.6,158.4 L440.3,158.3 L439.0,158.1 L437.7,158.0 L436.3,157.9 L435.0,157.8 L433.7,157.7 L432.4,157.6 L431.1,157.4 L429.8,157.3 L428.4,157.2 L427.1,157.1 L425.8,156.9 L424.5,156.8 L423.2,156.7 L421.9,156.5 L420.6,156.4 L419.2,156.2 L417.9,156.1 L416.6,156.0 L415.3,155.8 L414.0,155.7 L412.7,155.5 L411.4,155.4 L410.0,155.2 L408.7,155.1 L407.4,154.9 L406.1,154.8 L404.8,154.6 L403.5,154.5 L402.2,154.3 L400.8,154.1 L399.5,154.0 L398.2,153.8 L396.9,153.7 L395.6,153.5 L394.3,153.3 L393.0,153.2 L391.7,153.0 L390.4,152.8 L389.0,152.6 L387.7,152.5 L386.4,152.3 L385.1,152.1 L383.8,151.9 L382.5,151.7 L381.2,151.5 L379.9,151.3 L378.6,151.1 L377.3,150.9 L376.0,150.7 L374.6,150.5 L373.3,150.3 L372.0,150.1 L370.7,149.9 L369.4,149.7 L368.1,149.5 L366.8,149.3 L365.5,149.1 L364.2,148.8 L362.9,148.6 L361.6,148.4 L360.3,148.2 L359.0,147.9 L357.7,147.7 L356.4,147.5 L355.1,147.3 L353.8,147.0 L352.5,146.8 L351.2,146.6 L349.9,146.3 L348.6,146.1 L347.3,145.8 L346.0,145.6 L344.7,145.4 L343.4,145.1 L342.1,144.9 L340.8,144.6 L339.5,144.3 L338.2,144.1 L336.9,143.8 L335.6,143.6 L334.3,143.3 L333.0,143.0 L331.7,142.7 L330.4,142.5 L329.1,142.2 L327.8,141.9 L326.5,141.6 L325.2,141.3 L324.0,141.0 L322.7,140.7 L321.4,140.4 L320.1,140.1 L318.8,139.8 L317.5,139.5 L316.2,139.2 L314.9,138.9 L313.7,138.5 L312.4,138.2 L311.1,137.9 L309.8,137.6 L308.5,137.3 L307.2,136.9 L306.0,136.6 L304.7,136.3 L303.4,135.9 L302.1,135.6 L300.8,135.3 L299.6,134.9 L298.3,134.6 L297.0,134.3 L295.7,134.0 L294.4,133.6 L293.1,133.3 L291.9,133.0 L290.6,132.7 L289.3,132.4 L288.0,132.0 L286.7,131.7 L285.5,131.4 L284.2,131.1 L282.9,130.8 L281.6,130.5 L280.3,130.1 L279.1,129.8 L277.8,129.5 L276.5,129.1 L275.2,128.8 L274.0,128.5 L272.7,128.1 L271.4,127.8 L270.1,127.5 L268.9,127.2 L267.6,126.8 L266.3,126.5 L265.0,126.2 L263.8,125.9 L262.5,125.6 L261.2,125.3 L259.9,125.0 L258.6,124.7 L257.4,124.4 L256.1,124.1 L254.8,123.8 L253.5,123.5 L252.3,123.2 L251.0,122.9 L249.7,122.7 L248.4,122.4 L247.1,122.1 L245.9,121.9 L244.6,121.6 L243.3,121.4 L242.0,121.2 L240.7,121.0 L239.5,120.8 L238.2,120.6 L236.9,120.4 L235.6,120.2 L234.3,120.0 L233.1,119.9 L231.8,119.7 L230.5,119.6 L229.2,119.4 L227.9,119.3 L226.6,119.2 L225.4,119.1 L224.1,119.1 L222.8,119.0 L221.5,119.0 L220.2,118.9 L218.9,118.9 L217.6,118.9 L216.3,118.9 L215.0,118.9 L213.8,119.0 L212.5,119.1 L211.2,119.1 L209.9,119.2 L208.6,119.3 L207.3,119.5 L206.0,119.6 L204.7,119.8 L203.4,119.9 L202.2,120.1 L200.9,120.4 L199.6,120.6 L198.3,120.8 L197.1,121.1 L195.8,121.4 L194.6,121.7 L193.3,122.0 L192.1,122.4 L190.9,122.7 L189.6,123.1 L188.4,123.5 L187.2,124.0 L186.0,124.4 L184.9,124.9 L183.7,125.4 L182.5,125.9 L181.4,126.4 L180.2,126.9 L179.1,127.5 L177.9,128.1 L176.8,128.7 L175.7,129.3 L174.6,129.9 L173.5,130.6 L172.4,131.2 L171.3,131.9 L170.3,132.6 L169.2,133.3 L168.2,134.1 L167.1,134.8 L166.1,135.6 L165.1,136.4 L164.0,137.1 L163.0,137.9 L162.0,138.8 L161.0,139.6 L160.0,140.4 L159.1,141.3 L158.1,142.1 L157.1,143.0 L156.2,143.9 L155.2,144.7 L154.3,145.6 L153.4,146.5 L152.4,147.5 L151.5,148.4 L150.6,149.3 L149.7,150.2 L148.8,151.2 L147.9,152.1 L147.1,153.1 L146.2,154.1 L145.3,155.1 L144.5,156.0 L143.6,157.0 L142.8,158.0 L142.0,159.0 L141.2,160.0 L140.3,161.1 L139.5,162.1 L138.7,163.1 L137.9,164.1 L137.2,165.2 L136.4,166.2 L135.6,167.3 L134.8,168.3 L134.1,169.4 L133.3,170.5 L132.6,171.5 L131.8,172.6 L131.1,173.7 L130.4,174.8 L129.7,175.9 L128.9,176.9 L128.2,178.0 L127.6,179.1 L126.9,180.2 L126.2,181.3 L125.5,182.5 L124.9,183.6 L124.3,184.7 L123.6,185.8 L123.0,187.0 L122.4,188.1 L121.8,189.3 L121.2,190.4 L120.6,191.6 L120.0,192.8 L119.4,193.9 L118.8,195.1 L118.2,196.3 L117.6,197.5 L117.0,198.7 L116.4,199.9 L115.8,201.0 L115.2,202.2 L114.6,203.4 L114.0,204.6 L113.4,205.7 L112.8,206.9 L112.2,208.1 L111.5,209.2 L110.9,210.4 L110.3,211.6 L109.7,212.7 L109.1,213.9 L108.6,215.1 L108.0,216.2 L107.4,217.4 L106.8,218.6 L106.3,219.8 L105.7,220.9 L105.1,222.1 L104.6,223.3 L104.0,224.5 L103.5,225.7 L102.9,226.9 L102.4,228.1 L101.8,229.3 L101.2,230.5 L100.7,231.7 L100.1,232.9 L99.5,234.1 L98.9,235.3 L98.4,236.5 L97.8,237.7 L97.2,238.8 L96.6,240.0 L96.0,241.2 L95.3,242.4 L94.7,243.6 L94.1,244.8 L93.4,245.9 L92.8,247.1 L92.2,248.2 L91.5,249.4 L90.9,250.5 L90.3,251.7 L89.7,252.8 L89.0,254.0 L88.4,255.1 L87.8,256.3 L87.3,257.5 L86.7,258.6 L86.1,259.8 L85.5,260.9 L84.9,262.1 L84.3,263.3 L83.8,264.5 L83.2,265.6 L82.6,266.8 L82.0,268.0 L81.4,269.2 L80.9,270.3 L80.3,271.5 L79.7,272.7 L79.1,273.9 L78.5,275.1 L77.9,276.3 L77.3,277.5 L76.6,278.6 L76.0,279.8 L75.4,281.0 L74.8,282.2 L74.1,283.4 L73.5,284.6 L72.8,285.8 L72.1,286.9 L71.4,288.1 L70.6,289.2 L69.8,290.4 L69.0,291.5 L68.2,292.5 L67.3,293.6 L66.4,294.6 L65.4,295.6 L64.4,296.5 L63.3,297.4 L62.2,298.3 L61.1,299.1 L59.9,299.8 L58.6,300.4 L57.3,301.0 L55.9,301.4 L54.4,301.8 L53.0,302.1 Z" fill="#0000ff" stroke="none"/>
</g>
<rect x="184" y="152" width="149" height="124.5" fill="#fff"/>
<text x="213.9" y="164.0" class="t">T = 187 MeV quenched</text>
<path d="M188,161.05 H194.7 M198.2,161.05 H205.2" stroke="#000" stroke-width="1.5"/>
<text x="213.9" y="178.9" class="t">T = 215 MeV quenched</text>
<path d="M188,175.95000000000002 H194.7 M198.2,175.95000000000002 H205.2" stroke="#ff0000" stroke-width="1.5"/>
<text x="213.9" y="194.1" class="t">T = 235 MeV quenched</text>
<path d="M188,191.15 H194.7 M198.2,191.15 H205.2" stroke="#0000ff" stroke-width="1.5"/>
<text x="213.9" y="209.2" class="t">T = 187 MeV lattice</text>
<text x="213.9" y="221.9" class="t">T = 215 MeV lattice</text>
<text x="213.9" y="234.3" class="t">T = 235 MeV lattice</text>
<text x="213.9" y="246.8" class="t">T = 187 MeV DSE</text>
<path d="M188,242.8 H205.3" stroke="#000" stroke-width="1.4"/>
<text x="213.9" y="259.5" class="t">T = 215 MeV DSE</text>
<path d="M188,255.6 H205.3" stroke="#ff0000" stroke-width="1.4"/>
<text x="213.9" y="272.6" class="t">T = 235 MeV DSE</text>
<path d="M188,268.5 H205.3" stroke="#0000ff" stroke-width="1.4"/>
<circle cx="196.7" cy="204.9" r="3.25" fill="none" stroke="#000" stroke-width="1.5"/>
<path d="M196.8,214.6 L199.9,217.7 L196.8,220.8 L193.7,217.7 Z" fill="none" stroke="#ff0000" stroke-width="1.5"/>
<path d="M196.8,227.2 L200.0,231.9 L193.6,231.9 Z" fill="none" stroke="#0000ff" stroke-width="1.4"/>
</svg>
</body></html>
